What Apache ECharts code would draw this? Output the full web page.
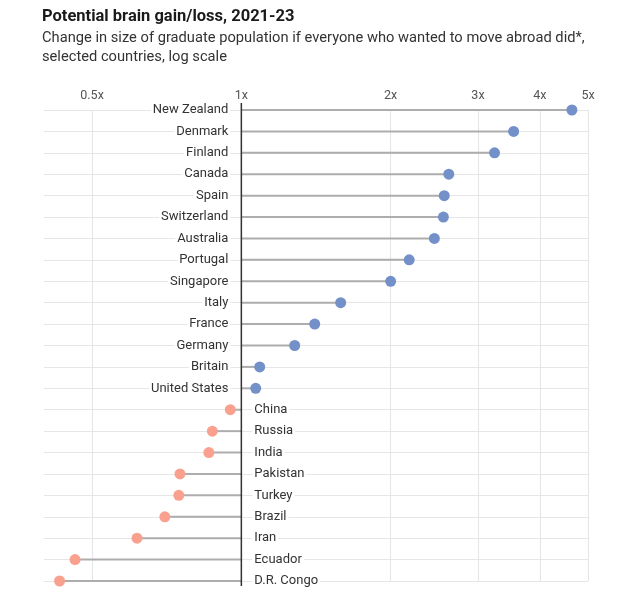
<!DOCTYPE html>
<html>
<head>
<meta charset="utf-8">
<script src="https://cdn.jsdelivr.net/npm/echarts@6/dist/echarts.min.js"></script>
<style>html,body{margin:0;padding:0;background:#fff}#c{width:626px;height:600px}</style>
</head>
<body>
<div id="c"></div>
<script>
const countries = ["New Zealand","Denmark","Finland","Canada","Spain","Switzerland","Australia","Portugal","Singapore","Italy","France","Germany","Britain","United States","China","Russia","India","Pakistan","Turkey","Brazil","Iran","Ecuador","D.R. Congo"];
const values = [4.64,3.54,3.24,2.62,2.565,2.555,2.45,2.18,2.0,1.586,1.406,1.281,1.089,1.069,0.95,0.874,0.86,0.752,0.748,0.701,0.616,0.462,0.43];
const xTicks = [0.5,1,2,3,4,5];

const FONT = 'Roboto, "Noto Sans", sans-serif';
const chart = echarts.init(document.getElementById('c'));
const data = values.map((v, i) => [v, i]);

chart.setOption({
  animation: false,
  title: {
    text: 'Potential brain gain/loss, 2021-23',
    subtext: 'Change in size of graduate population if everyone who wanted to move abroad did*,\nselected countries, log scale',
    left: 37, top: 3, itemGap: 4,
    textStyle: {fontFamily: FONT, fontSize: 16.5, fontWeight: 'bold', color: '#1a1a1a'},
    subtextStyle: {fontFamily: FONT, fontSize: 14.7, lineHeight: 19, color: '#333'}
  },
  grid: {left: 44, right: 38, top: 110, bottom: 19},
  xAxis: {
    type: 'log', logBase: 2, min: 0.4, max: 5, position: 'top',
    axisLine: {show: false}, axisTick: {show: false, customValues: xTicks},
    axisLabel: {customValues: xTicks, formatter: v => v + 'x', margin: 8, color: '#555', fontFamily: FONT, fontSize: 12.5},
    splitLine: {show: true, lineStyle: {color: '#e6e6e6', width: 1.2}}
  },
  yAxis: {
    type: 'category', data: countries, inverse: true, boundaryGap: false,
    axisLine: {show: false}, axisTick: {show: false}, axisLabel: {show: false},
    splitLine: {show: true, lineStyle: {color: '#e6e6e6', width: 1.2}}
  },
  series: [
    {
      type: 'custom', z: 2, data: data, encode: {x: 0, y: 1},
      renderItem: (params, api) => {
        const v = api.value(0), i = api.value(1);
        const p0 = api.coord([1, i]), p1 = api.coord([v, i]);
        const pos = v >= 1;
        return {type: 'group', children: [
          {type: 'line', shape: {x1: p0[0], y1: p0[1], x2: p1[0], y2: p1[1]}, style: {stroke: '#adadad', lineWidth: 2}},
          {type: 'text', x: pos ? p0[0] - 11 : p0[0] + 11, y: p0[1],
           style: {text: countries[i], textAlign: pos ? 'right' : 'left', textVerticalAlign: 'middle',
                   fill: '#333', fontFamily: FONT, fontSize: 13, backgroundColor: '#fff', padding: [1, 2]}}
        ]};
      }
    },
    {
      type: 'custom', z: 3, data: [[1, 0]], encode: {x: 0, y: 1},
      renderItem: (params, api) => {
        const a = api.coord([1, 0]), b = api.coord([1, countries.length - 1]);
        return {type: 'line', shape: {x1: a[0], y1: a[1] - 7, x2: b[0], y2: b[1] + 5}, style: {stroke: '#333', lineWidth: 1.5}};
      }
    },
    {
      type: 'scatter', z: 4, data: data, symbolSize: 11,
      itemStyle: {color: p => p.value[0] >= 1 ? '#7391c8' : '#f9a18e', opacity: 1}
    }
  ]
});
</script>
</body>
</html>
